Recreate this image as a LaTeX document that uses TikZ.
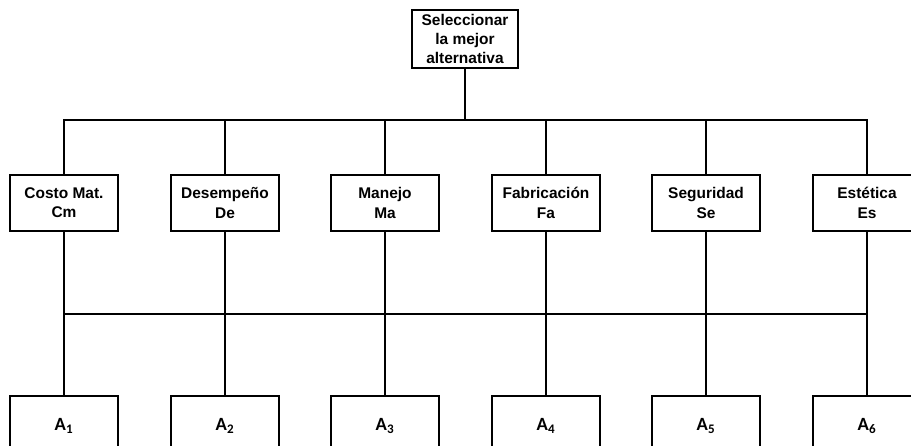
\documentclass[tikz,border=0pt]{standalone}
\usepackage{fontspec}
\setmainfont{Liberation Sans}
\newfontfamily\calfont{Carlito}
\begin{document}
\begin{tikzpicture}[x=0.75pt,y=-0.75pt,
  box/.style={draw,line width=1.4pt,inner sep=0pt,align=center,font=\bfseries\fontsize{11.6}{14.4}\selectfont},
  crit/.style={box,minimum width=108*0.75pt,minimum height=56*0.75pt},
  alt/.style={draw,line width=1.4pt,inner sep=0pt,minimum width=108*0.75pt,minimum height=62*0.75pt,font=\calfont\bfseries\fontsize{14}{16}\selectfont},
  conn/.style={line width=1.4pt}]
\useasboundingbox (0,0) rectangle (911,446);
\clip (0,0) rectangle (911,446);
\node[box,minimum width=106*0.75pt,minimum height=58*0.75pt] (top) at (465,39) {Seleccionar\\la mejor\\alternativa};
\foreach \i/\x/\t in {1/64/{Costo Mat.\\Cm},2/225/{Desempeño\\De},3/385/{Manejo\\Ma},4/546/{Fabricación\\Fa},5/706/{Seguridad\\Se},6/867/{Estética\\Es}}{
  \node[crit] (c\i) at (\x,203) {\t};
  \node[alt,anchor=north] (a\i) at (\x,395) {\raisebox{4pt}{A\textsubscript{\i}}};
}
\coordinate (bus1) at (465,120);
\coordinate (bus2) at (465,314);
\draw[conn] (top.south) -- (bus1);
\draw[conn] (c1.north) |- (bus1) -| (c6.north);
\foreach \i in {2,...,5}{\draw[conn] (c\i.north) -- (c\i.north |- bus1);}
\draw[conn] (c1.south |- bus2) -- (c6.south |- bus2);
\foreach \i in {1,...,6}{\draw[conn] (c\i.south) -- (a\i.north);}
\end{tikzpicture}
\end{document}
